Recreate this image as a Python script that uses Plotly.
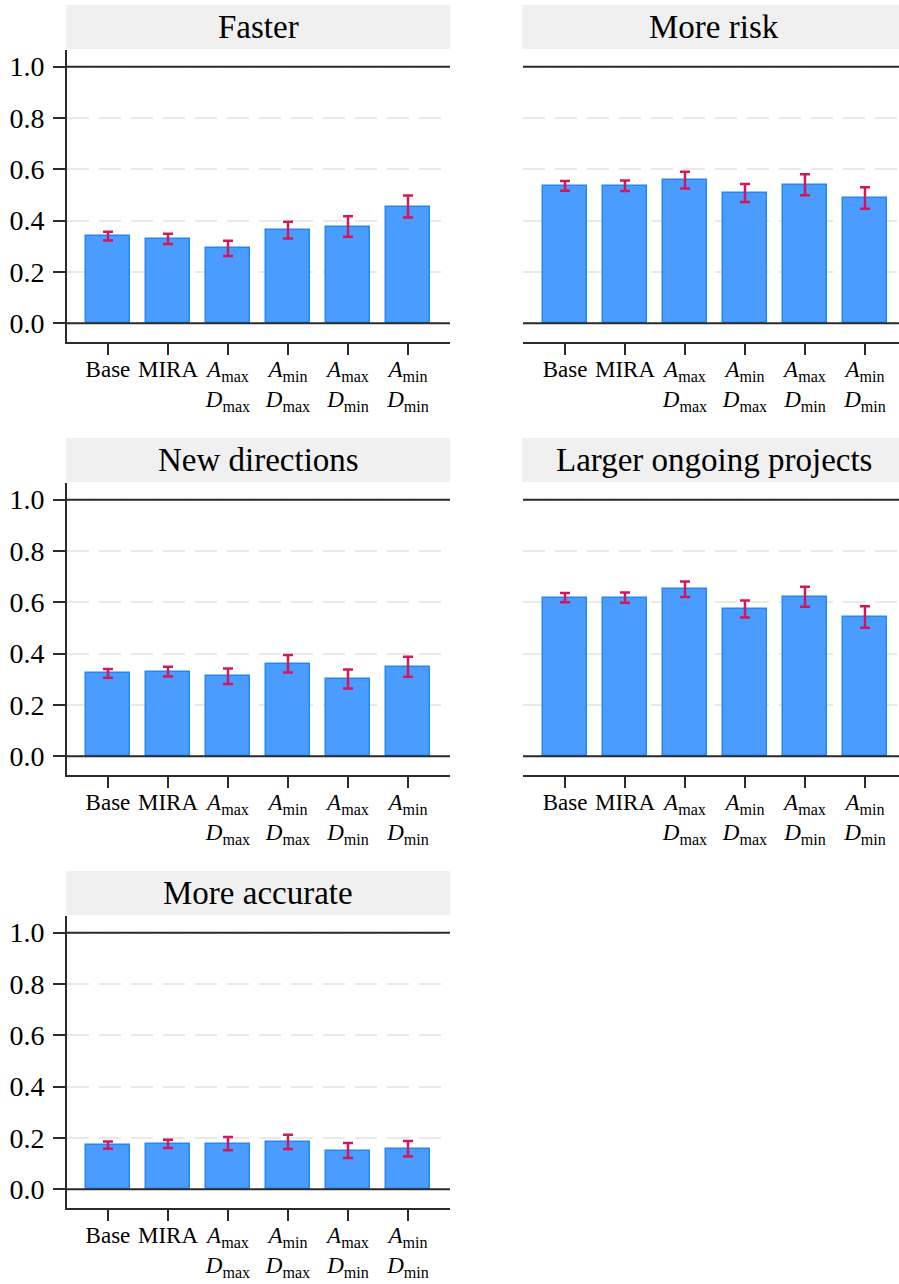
import plotly.graph_objects as go

categories = ["Base", "MIRA", "AmaxDmax", "AminDmax", "AmaxDmin", "AminDmin"]
tick_labels = [
    "Base",
    "MIRA",
    "<i>A</i><sub>max</sub><br><i>D</i><sub>max</sub>",
    "<i>A</i><sub>min</sub><br><i>D</i><sub>max</sub>",
    "<i>A</i><sub>max</sub><br><i>D</i><sub>min</sub>",
    "<i>A</i><sub>min</sub><br><i>D</i><sub>min</sub>",
]
panel_titles = ["Faster", "More risk", "New directions", "Larger ongoing projects", "More accurate"]

faster = [0.340, 0.329, 0.292, 0.363, 0.377, 0.455]
faster_err = [0.017, 0.020, 0.030, 0.033, 0.040, 0.043]
more_risk = [0.536, 0.536, 0.558, 0.508, 0.540, 0.488]
more_risk_err = [0.019, 0.020, 0.033, 0.035, 0.041, 0.042]
new_directions = [0.323, 0.330, 0.312, 0.361, 0.301, 0.349]
new_directions_err = [0.017, 0.019, 0.030, 0.034, 0.037, 0.039]
larger_projects = [0.618, 0.618, 0.651, 0.574, 0.622, 0.543]
larger_projects_err = [0.018, 0.020, 0.030, 0.033, 0.039, 0.042]
more_accurate = [0.172, 0.177, 0.178, 0.185, 0.151, 0.158]
more_accurate_err = [0.014, 0.016, 0.026, 0.028, 0.029, 0.030]

series = [faster, more_risk, new_directions, larger_projects, more_accurate]
errors = [faster_err, more_risk_err, new_directions_err, larger_projects_err, more_accurate_err]

y_ticks = [0.0, 0.2, 0.4, 0.6, 0.8, 1.0]
y_ticktext = ["0.0", "0.2", "0.4", "0.6", "0.8", "1.0"]

W, H = 899, 1284
FONT = "Liberation Serif, Times New Roman, serif"
BAR_FILL = "#4A9CFE"
BAR_LINE = "#2487F7"
ERR_COLOR = "#D2185D"
AXIS_COLOR = "#2b2b2b"
GRID_COLOR = "#e9e9e9"
STRIP_COLOR = "#f0f0f0"

# pixel layout
col_x = [(67, 450), (523, 899)]
col_range = [(-0.683, 5.7), (-0.70, 5.567)]
row_top0, row_pitch, plot_h = 50, 433, 292.3
strip_h = 44

fig = go.Figure()
layout = dict(
    width=W, height=H,
    margin=dict(l=0, r=0, t=0, b=0),
    paper_bgcolor="white", plot_bgcolor="white",
    showlegend=False,
    font=dict(family=FONT, color="black"),
    bargap=0,
)
shapes = []
annotations = []

for i, (vals, errs) in enumerate(zip(series, errors)):
    r, c = divmod(i, 2)
    n = i + 1
    xa = "x" if n == 1 else f"x{n}"
    ya = "y" if n == 1 else f"y{n}"
    fig.add_trace(go.Bar(
        x=categories, y=vals, xaxis=xa, yaxis=ya,
        width=0.733,
        marker=dict(color=BAR_FILL, line=dict(color=BAR_LINE, width=1.5)),
        error_y=dict(type="data", array=errs, color=ERR_COLOR, thickness=2.5, width=5),
        hoverinfo="skip",
    ))
    x0, x1 = col_x[c]
    top = row_top0 + row_pitch * r
    bot = top + plot_h
    xdom = [x0 / W, x1 / W]
    ydom = [1 - bot / H, 1 - top / H]
    xkey = "xaxis" if n == 1 else f"xaxis{n}"
    ykey = "yaxis" if n == 1 else f"yaxis{n}"
    layout[xkey] = dict(
        domain=xdom, anchor=ya, type="category",
        range=list(col_range[c]),
        tickvals=categories, ticktext=tick_labels,
        tickfont=dict(family=FONT, size=23, color="black"),
        showline=True, linecolor=AXIS_COLOR, linewidth=2,
        ticks="outside", ticklen=11, tickwidth=2, tickcolor=AXIS_COLOR,
        ticklabelstandoff=-6,
        showgrid=False, zeroline=False, fixedrange=True,
    )
    layout[ykey] = dict(
        domain=ydom, anchor=xa,
        range=[-0.074, 1.065],
        tickvals=y_ticks, ticktext=y_ticktext if c == 0 else None,
        showticklabels=(c == 0),
        tickfont=dict(family=FONT, size=28, color="black"),
        showline=(c == 0), linecolor=AXIS_COLOR, linewidth=2,
        ticks="outside" if c == 0 else "", ticklen=12, tickwidth=2, tickcolor=AXIS_COLOR,
        ticklabelstandoff=3,
        showgrid=True, gridcolor=GRID_COLOR, gridwidth=2, griddash="22px,10px",
        zeroline=False, fixedrange=True,
    )
    # solid reference lines at 0 and 1
    for yv in (y_ticks[0], y_ticks[-1]):
        shapes.append(dict(
            type="line", xref=f"{xa} domain", yref=ya, x0=0, x1=1, y0=yv, y1=yv,
            line=dict(color=AXIS_COLOR, width=2), layer="above",
        ))
    # title strip
    s_top = top - strip_h - 1
    sx0 = x0 - 1
    sx1 = x0 + 383
    shapes.append(dict(
        type="rect", xref="paper", yref="paper",
        x0=sx0 / W, x1=min(sx1, W) / W,
        y0=1 - (top - 1) / H, y1=1 - s_top / H,
        fillcolor=STRIP_COLOR, line=dict(width=0), layer="below",
    ))
    annotations.append(dict(
        text=panel_titles[i], xref="paper", yref="paper",
        x=((sx0 + sx1) / 2) / W, y=1 - (s_top + strip_h / 2) / H,
        xanchor="center", yanchor="middle", showarrow=False,
        font=dict(family=FONT, size=33, color="black"),
    ))

layout["shapes"] = shapes
layout["annotations"] = annotations
fig.update_layout(**layout)
fig.write_html(
    "out.html",
    config={"displayModeBar": False},
    post_script="document.body.style.margin='0';document.body.style.overflow='hidden';"
                "document.documentElement.style.overflow='hidden';",
)
